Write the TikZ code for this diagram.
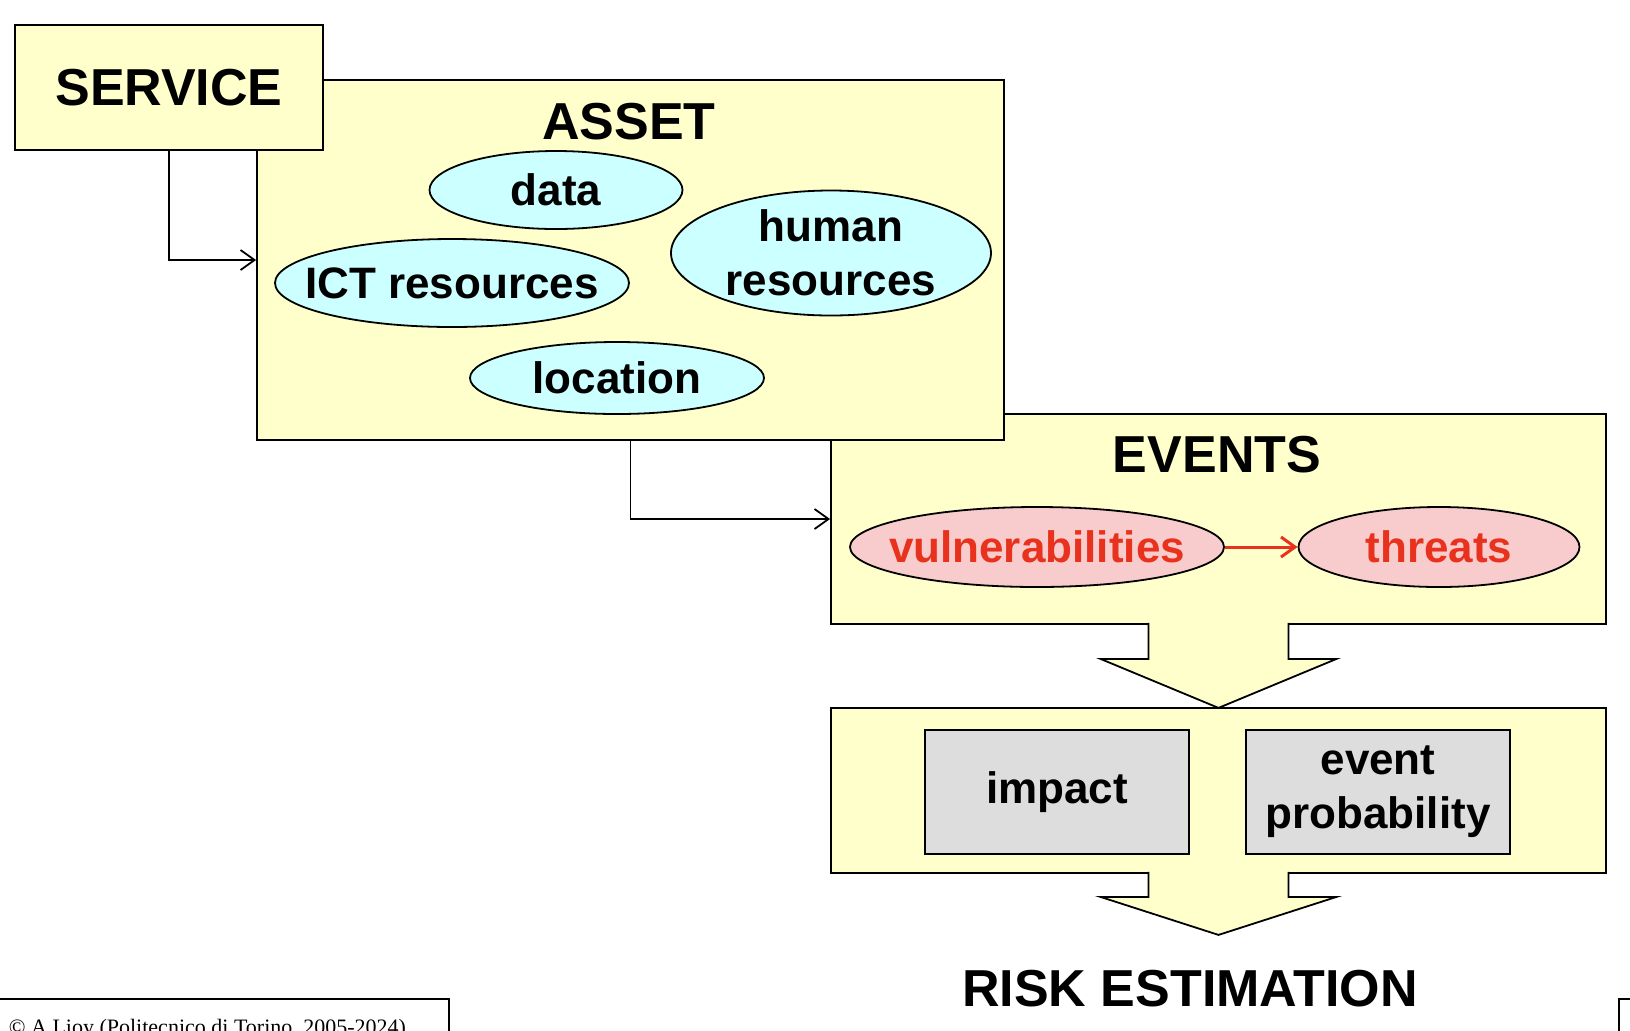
\documentclass[tikz,border=0pt]{standalone}
\usepackage{fontspec}
\setmainfont{Liberation Sans}
\newfontfamily\copyfont{Liberation Serif}
\usetikzlibrary{shapes.geometric,arrows.meta,calc}
\definecolor{boxyellow}{HTML}{FFFFCC}
\definecolor{itemcyan}{HTML}{CCFFFF}
\definecolor{itempink}{HTML}{F8CCCC}
\definecolor{itemred}{HTML}{E8321E}
\definecolor{itemgray}{HTML}{DDDDDD}

\begin{document}
\begin{tikzpicture}[x=0.5pt,y=-0.5pt,line width=0.9pt,
    >={Straight Barb[length=7pt,width=10pt]}]
    \tikzstyle{block} = [draw, rectangle, fill=boxyellow, inner sep=0pt]
    \tikzstyle{title} = [font=\fontsize{26}{30}\selectfont\bfseries]
    \tikzstyle{item} = [draw, ellipse, fill=itemcyan, inner sep=0pt, align=center,
        font=\fontsize{22}{27}\selectfont\bfseries]
    \tikzstyle{factor} = [draw, rectangle, fill=itemgray, inner sep=0pt, align=center,
        minimum width=132pt, minimum height=62pt, font=\fontsize{22}{27}\selectfont\bfseries]

    \clip (0,0) rectangle (1630,1030);

    % blocchi
    \node[block, minimum width=387.5pt, minimum height=105pt] (events) at (1218.5,519) {};
    \node[block, minimum width=373.5pt, minimum height=180pt] (asset) at (630.5,260) {};
    \node[block, minimum width=154pt, minimum height=62.5pt] (service) at (169,87.5) {};
    \node[block, minimum width=387.5pt, minimum height=82.5pt] (estimate) at (1218.5,790.5) {};

    % titoli
    \node[title] (servicetitle) at (service) {SERVICE};
    \node[title] (assettitle) at (629,122) {ASSET};
    \node[title] (eventstitle) at (1217,455) {EVENTS};
    \node[title] (risktitle) at (1190,989) {RISK ESTIMATION};

    % elementi dell'asset
    \node[item, minimum width=126.5pt, minimum height=39pt] (data) at (556,190) {data};
    \node[item, inner xsep=-12pt, minimum width=177pt, minimum height=44pt] (ict) at (452,283) {ICT resources};
    \node[item, minimum width=160pt, minimum height=62.5pt] (human) at (831,253) {human\\resources};
    \node[item, minimum width=147pt, minimum height=36pt] (location) at (617,378) {location};

    % eventi
    \node[item, inner xsep=-8pt, fill=itempink, text=itemred, minimum width=187pt, minimum height=40pt] (vuln) at (1037,547) {vulnerabilities};
    \node[item, fill=itempink, text=itemred, minimum width=140.5pt, minimum height=40pt] (threats) at (1439,547) {threats};

    % fattori di rischio
    \node[factor] (impact) at (1057,792) {impact};
    \node[factor] (prob) at (1378,792) {event\\probability};

    % collegamenti
    \draw[->] (service.south) |- (asset.west);
    \draw[->] (asset.south) |- (events.west);
    \draw[->, itemred, line width=1.5pt] (vuln) -- (threats);

    % frecce grandi
    \draw[fill=boxyellow] ($(events.south)+(-70,-2)$) -- ++(0,36) -- ++(-48,0)
        -- ($(events.south)+(0,83)$) -- ++(118,-49) -- ++(-48,0) -- ++(0,-36);
    \draw[fill=boxyellow] ($(estimate.south)+(-70,-2)$) -- ++(0,25) -- ++(-48,0)
        -- ($(estimate.south)+(0,61)$) -- ++(118,-38) -- ++(-48,0) -- ++(0,-25);

    % riquadri in basso
    \node[draw, rectangle, anchor=north west, inner sep=0pt, minimum width=225pt,
        minimum height=30pt] (copybox) at (-2,998) {};
    \node[anchor=base west, inner sep=0pt, font=\copyfont\fontsize{11}{13}\selectfont] (copytext)
        at (8,1034) {\textcopyright\ A.Lioy (Politecnico di Torino, 2005-2024)};
    \node[draw, rectangle, anchor=north west, inner sep=0pt, minimum width=20pt,
        minimum height=30pt] (pagebox) at (1618,998) {};
\end{tikzpicture}
\end{document}
